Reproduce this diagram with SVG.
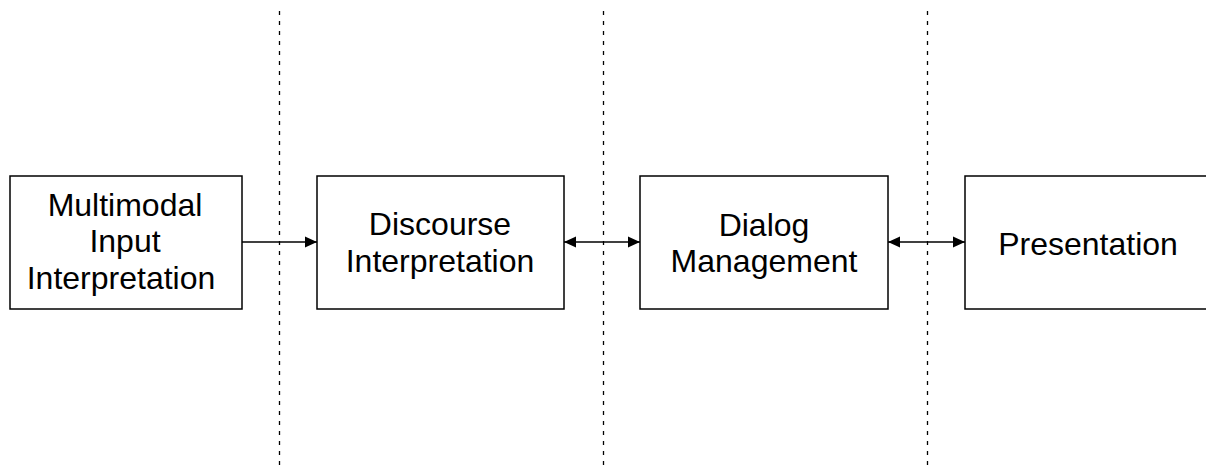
<svg xmlns="http://www.w3.org/2000/svg" width="1206" height="470" viewBox="0 0 1206 470">
<style>
.box{fill:#fff;stroke:#000;stroke-width:1.5}
.lbl{font-family:"Liberation Sans",Arial,sans-serif;font-size:32px;fill:#000;text-anchor:middle}
.sep{stroke:#000;stroke-width:1.3;stroke-dasharray:4 6;fill:none}
.conn{stroke:#000;stroke-width:1.5;fill:none}
</style>
<defs>
<marker id="ah" markerUnits="userSpaceOnUse" markerWidth="13" markerHeight="12" viewBox="0 0 13 12" refX="12" refY="6" orient="auto-start-reverse">
<path d="M0,0.5 L12,6 L0,11.5 Z" fill="#000"/>
</marker>
</defs>
<g id="separators">
<line class="sep" x1="279.5" y1="11" x2="279.5" y2="470"/>
<line class="sep" x1="603.5" y1="11" x2="603.5" y2="470"/>
<line class="sep" x1="927.5" y1="11" x2="927.5" y2="470"/>
</g>
<g id="connectors">
<line class="conn" x1="242" y1="242" x2="317" y2="242" marker-end="url(#ah)"/>
<line class="conn" x1="564" y1="242" x2="640" y2="242" marker-start="url(#ah)" marker-end="url(#ah)"/>
<line class="conn" x1="888" y1="242" x2="965" y2="242" marker-start="url(#ah)" marker-end="url(#ah)"/>
</g>
<g id="node-multimodal">
<rect class="box" x="10" y="176" width="232" height="133"/>
<text class="lbl" x="125" y="216">Multimodal</text>
<text class="lbl" x="125" y="252">Input</text>
<text class="lbl" x="121" y="289">Interpretation</text>
</g>
<g id="node-discourse">
<rect class="box" x="317" y="176" width="247" height="133"/>
<text class="lbl" x="440" y="235">Discourse</text>
<text class="lbl" x="440" y="272">Interpretation</text>
</g>
<g id="node-dialog">
<rect class="box" x="640" y="176" width="248" height="133"/>
<text class="lbl" x="764" y="236">Dialog</text>
<text class="lbl" x="764" y="272">Management</text>
</g>
<g id="node-presentation">
<rect class="box" x="965" y="176" width="248" height="133"/>
<text class="lbl" x="1088" y="255">Presentation</text>
</g>
</svg>
